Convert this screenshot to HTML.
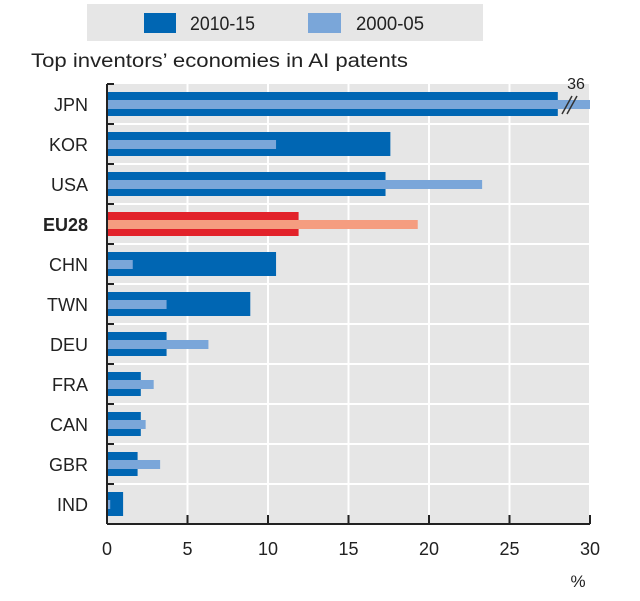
<!DOCTYPE html>
<html><head><meta charset="utf-8"><style>
body{margin:0;background:#fff;width:640px;height:596px;overflow:hidden;font-family:"Liberation Sans",sans-serif}
text{font-family:"Liberation Sans",sans-serif}
</style></head><body>
<svg id="c" width="640" height="596">
<rect x="87" y="4" width="396" height="37" fill="#e6e6e6"/>
<g><rect x="144" y="13" width="32" height="20" fill="#0066b3"/><text x="190" y="30" font-size="19" textLength="65" lengthAdjust="spacingAndGlyphs" fill="#222">2010-15</text></g>
<g><rect x="308" y="13" width="33" height="20" fill="#7aa6d9"/><text x="356" y="30" font-size="19" textLength="68" lengthAdjust="spacingAndGlyphs" fill="#222">2000-05</text></g>
<text x="31" y="67" font-size="19" textLength="377" lengthAdjust="spacingAndGlyphs" fill="#222">Top inventors’ economies in AI patents</text>
<g id="plot"></g>
</svg>
<script>
const categories=["JPN","KOR","USA","EU28","CHN","TWN","DEU","FRA","CAN","GBR","IND"];
const recent=[28,17.6,17.3,11.9,10.5,8.9,3.7,2.1,2.1,1.9,1.0];
const early=[36,10.5,23.3,19.3,1.6,3.7,6.3,2.9,2.4,3.3,0.2];
const ticks=[0,5,10,15,20,25,30];
const NS="http://www.w3.org/2000/svg";
const g=document.getElementById('plot');
const X0=107,X1=590,Y0=84,RH=40,MAX=30;
const xs=v=>X0+(Math.min(v,MAX)/MAX)*(X1-X0);
const ys=i=>Y0+i*RH;
const Yb=ys(categories.length);
function el(t,a){const e=document.createElementNS(NS,t);for(const k in a)e.setAttribute(k,a[k]);g.appendChild(e);return e;}
let bg=el('rect',{x:X0,y:Y0,width:X1-X0,height:Yb-Y0,fill:'#e6e6e6'});


ticks.forEach(t=>{if(t>0){let l=el('line',{x1:xs(t),x2:xs(t),y1:Y0,y2:Yb,stroke:'#fff','stroke-width':2});

}});
categories.forEach((c,i)=>{if(i>0){let l=el('line',{x1:X0,x2:X1,y1:ys(i),y2:ys(i),stroke:'#fff','stroke-width':2});

}});
categories.forEach((c,i)=>{
 const eu=c==='EU28';
 let b=el('rect',{x:X0,y:ys(i)+8,width:xs(recent[i])-X0,height:24,fill:eu?'#e2222a':'#0066b3'});
 
 
 let b2=el('rect',{x:X0,y:ys(i)+16,width:xs(early[i])-X0,height:9,fill:eu?'#f59d80':'#7aa6d9'});
 
 
 let t=el('text',{x:88,y:ys(i)+27,'text-anchor':'end','font-size':18,fill:'#222','font-weight':eu?'bold':'normal'});
 t.textContent=c;
 
 
 let tk=el('line',{x1:X0,x2:X0+7,y1:ys(i),y2:ys(i),stroke:'#222','stroke-width':2});
 
 
 if(early[i]>MAX){
  let br=el('path',{d:`M${X1-28} ${ys(i)+30} l10 -18 M${X1-23} ${ys(i)+30} l10 -18`,stroke:'#333','stroke-width':1.5,fill:'none'});
  
  
  let bl=el('text',{x:X1-14,y:ys(i)+5,'text-anchor':'middle','font-size':16,fill:'#222'});
  bl.textContent=String(early[i]);
  
  
 }
});
let ya=el('line',{x1:X0,x2:X0,y1:Y0,y2:Yb,stroke:'#222','stroke-width':2});


let xa=el('line',{x1:X0,x2:X1,y1:Yb,y2:Yb,stroke:'#222','stroke-width':2});


ticks.forEach(t=>{
 let tk=el('line',{x1:xs(t),x2:xs(t),y1:Yb,y2:Yb-9,stroke:'#222','stroke-width':2});
 
 
 let tl=el('text',{x:xs(t),y:Yb+31,'text-anchor':'middle','font-size':18,fill:'#222'});
 tl.textContent=t;
 
 
});
let u=el('text',{x:578,y:587,'text-anchor':'middle','font-size':17,fill:'#222'});
u.textContent='%';


</script>
</body></html>
